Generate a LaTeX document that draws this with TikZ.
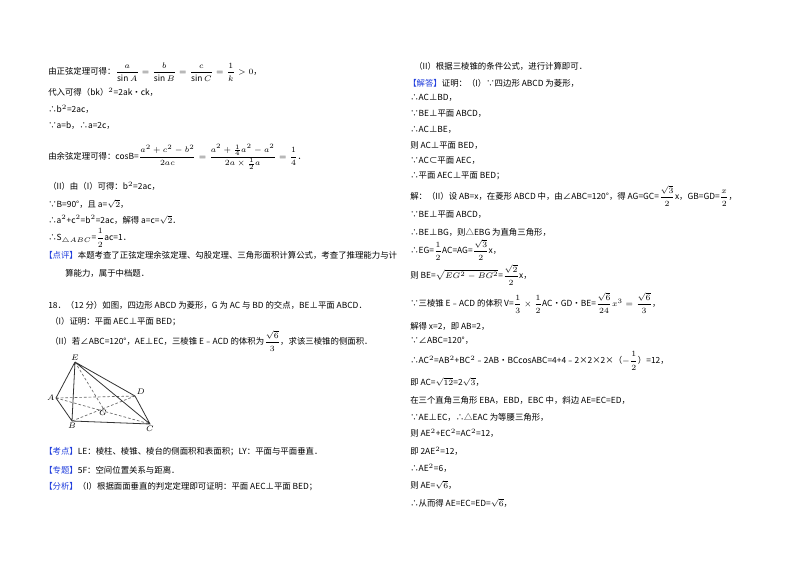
\documentclass[tikz,border=0pt]{standalone}
\usepackage{amsmath}
\usepackage{fontspec}
\setmainfont{Noto Sans CJK SC}
\definecolor{lab}{RGB}{30,60,220}
\newcommand{\lb}[1]{\textcolor{lab}{【#1】}}
\newcommand{\fr}[2]{\dfrac{#1}{#2}}
\begin{document}
\begin{tikzpicture}[x=0.75pt,y=-0.75pt,
 t/.style={anchor=west,inner sep=0pt,font=\fontsize{6.3}{8}\selectfont},
 pt/.style={inner sep=1pt,font=\fontsize{6.5}{7}\selectfont},
 sl/.style={line width=0.6pt,black!80},
 dl/.style={line width=0.5pt,black!60,dashed,dash pattern=on 2pt off 1.5pt}]
\useasboundingbox (0,0) rectangle (800,565);
% left column
\node[t] (l1) at (48,72) {由正弦定理可得：$\fr{a}{\sin A}=\fr{b}{\sin B}=\fr{c}{\sin C}=\fr{1}{k}>0$，};
\node[t] (l2) at (48,92) {代入可得（bk）$^2$=2ak•ck，};
\node[t] (l3) at (48,109) {∴b$^2$=2ac，};
\node[t] (l4) at (48,126) {∵a=b，∴a=2c，};
\node[t] (l5) at (48,157) {由余弦定理可得：cosB=$\fr{a^2+c^2-b^2}{2ac}=\dfrac{a^2+\frac14a^2-a^2}{2a\times\frac12a}=\fr{1}{4}$．};
\node[t] (l6) at (48,186) {（II）由（I）可得：b$^2$=2ac，};
\node[t] (l7) at (48,204) {∵B=90°，且 a=$\sqrt{2}$，};
\node[t] (l8) at (48,220) {∴a$^2$+c$^2$=b$^2$=2ac，解得 a=c=$\sqrt{2}$．};
\node[t] (l9) at (48,238) {∴S$_{\triangle ABC}$=$\fr{1}{2}$ac=1．};
\node[t] (l10) at (44,255) {\lb{点评}本题考查了正弦定理余弦定理、勾股定理、三角形面积计算公式，考查了推理能力与计};
\node[t] (l11) at (65,273) {算能力，属于中档题．};
\node[t] (l12) at (48,305) {18．（12 分）如图，四边形 ABCD 为菱形，G 为 AC 与 BD 的交点，BE⊥平面 ABCD．};
\node[t] (l13) at (50,322) {（I）证明：平面 AEC⊥平面 BED；};
\node[t] (l14) at (50,341) {（II）若∠ABC=120°，AE⊥EC，三棱锥 E﹣ACD 的体积为$\fr{\sqrt6}{3}$，求该三棱锥的侧面积．};
% figure
\coordinate (E) at (75,362); \coordinate (A) at (56,398); \coordinate (D) at (135,396);
\coordinate (G) at (103,408); \coordinate (B) at (72,421); \coordinate (C) at (150,424);
\draw[dl] (A)--(D) (A)--(C) (B)--(D) (E)--(G);
\draw[sl] (E)--(A)--(B)--(C)--(D)--(E) (E)--(B) (E)--(C);
\node[pt,above] (nE) at (E) {$E$}; \node[pt,left] (nA) at (A) {$A$};
\node[pt,above right] (nD) at (D) {$D$}; \node[pt,below] (nG) at (G) {$G$};
\node[pt,below] (nB) at (B) {$B$}; \node[pt,below] (nC) at (C) {$C$};
\node[t] (l15) at (44,452) {\lb{考点}LE：棱柱、棱锥、棱台的侧面积和表面积；LY：平面与平面垂直．};
\node[t] (l16) at (44,470) {\lb{专题}5F：空间位置关系与距离．};
\node[t] (l17) at (44,487) {\lb{分析}（I）根据面面垂直的判定定理即可证明：平面 AEC⊥平面 BED；};
% right column
\node[t] (r1) at (414,66) {（II）根据三棱锥的条件公式，进行计算即可．};
\node[t] (r2) at (408,83) {\lb{解答}证明：（I）∵四边形 ABCD 为菱形，};
\node[t] (r3) at (410,98) {∴AC⊥BD，};
\node[t] (r4) at (410,114) {∵BE⊥平面 ABCD，};
\node[t] (r5) at (410,130) {∴AC⊥BE，};
\node[t] (r6) at (410,145) {则 AC⊥平面 BED，};
\node[t] (r7) at (410,161) {∵AC⊂平面 AEC，};
\node[t] (r8) at (410,176) {∴平面 AEC⊥平面 BED；};
\node[t] (r9) at (410,196) {解：（II）设 AB=x，在菱形 ABCD 中，由∠ABC=120°，得 AG=GC=$\fr{\sqrt3}{2}$x，GB=GD=$\fr{x}{2}$，};
\node[t] (r10) at (410,215) {∵BE⊥平面 ABCD，};
\node[t] (r11) at (410,232) {∴BE⊥BG，则△EBG 为直角三角形，};
\node[t] (r12) at (410,250) {∴EG=$\fr12$AC=AG=$\fr{\sqrt3}{2}$x，};
\node[t] (r13) at (410,275) {则 BE=$\sqrt{EG^2-BG^2}$=$\fr{\sqrt2}{2}$x，};
\node[t] (r14) at (410,303) {∵三棱锥 E﹣ACD 的体积 V=$\fr13\times\fr12$AC•GD•BE=$\fr{\sqrt6}{24}x^3=\fr{\sqrt6}{3}$，};
\node[t] (r15) at (410,326) {解得 x=2，即 AB=2，};
\node[t] (r16) at (410,341) {∵∠ABC=120°，};
\node[t] (r17) at (410,361) {∴AC$^2$=AB$^2$+BC$^2$﹣2AB•BCcosABC=4+4﹣2×2×2×（$-\fr12$）=12，};
\node[t] (r18) at (410,382) {即 AC=$\sqrt{12}$=2$\sqrt3$，};
\node[t] (r19) at (410,400) {在三个直角三角形 EBA，EBD，EBC 中，斜边 AE=EC=ED，};
\node[t] (r20) at (410,417) {∵AE⊥EC，∴△EAC 为等腰三角形，};
\node[t] (r21) at (410,433) {则 AE$^2$+EC$^2$=AC$^2$=12，};
\node[t] (r22) at (410,451) {即 2AE$^2$=12，};
\node[t] (r23) at (410,468) {∴AE$^2$=6，};
\node[t] (r24) at (410,485) {则 AE=$\sqrt6$，};
\node[t] (r25) at (410,503) {∴从而得 AE=EC=ED=$\sqrt6$，};
\end{tikzpicture}
\end{document}
